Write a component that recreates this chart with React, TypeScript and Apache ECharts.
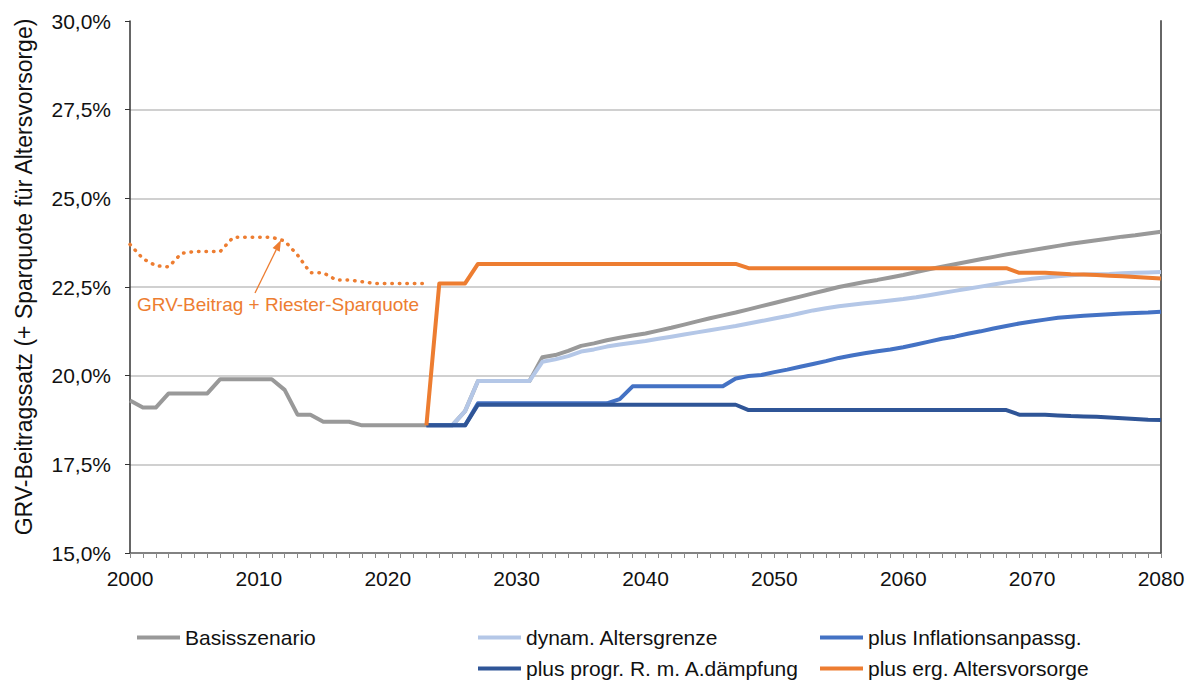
import React, { useEffect, useRef } from "react";
import * as echarts from "echarts";

const FIRST_YEAR = 2000;
const LAST_YEAR = 2080;
const years: string[] = [];
for (let y = FIRST_YEAR; y <= LAST_YEAR; y++) years.push(String(y));

const yTicks = [15, 17.5, 20, 22.5, 25, 27.5, 30];

// Basisszenario 2000-2080
const basis = [
  19.3, 19.1, 19.1, 19.5, 19.5, 19.5, 19.5, 19.9, 19.9, 19.9,
  19.9, 19.9, 19.6, 18.9, 18.9, 18.7, 18.7, 18.7, 18.6, 18.6,
  18.6, 18.6, 18.6, 18.6, 18.6, 18.6, 19.0, 19.85, 19.85, 19.85,
  19.85, 19.85, 20.52, 20.58, 20.7, 20.84, 20.91, 21.0, 21.07, 21.13,
  21.19, 21.27, 21.35, 21.44, 21.53, 21.62, 21.7, 21.78, 21.87, 21.96,
  22.05, 22.14, 22.23, 22.32, 22.41, 22.5, 22.57, 22.64, 22.7, 22.77,
  22.84, 22.92, 23.0, 23.07, 23.14, 23.21, 23.28, 23.35, 23.42, 23.48,
  23.54, 23.6, 23.66, 23.72, 23.77, 23.82, 23.87, 23.92, 23.96, 24.01,
  24.06,
];

// GRV-Beitrag + Riester-Sparquote 2000-2023 (dotted)
const riester = [
  23.7, 23.3, 23.1, 23.07, 23.45, 23.5, 23.5, 23.5, 23.9, 23.9,
  23.9, 23.9, 23.8, 23.4, 22.9, 22.9, 22.7, 22.7, 22.65, 22.6,
  22.6, 22.6, 22.6, 22.6,
];

// Scenario series 2023-2080
const SCEN_START = 2023;
const dynam = [
  18.6, 18.6, 18.6, 19.0, 19.85, 19.85, 19.85, 19.85, 19.85, 20.39,
  20.46, 20.55, 20.68, 20.74, 20.82, 20.88, 20.93, 20.98, 21.04, 21.1,
  21.16, 21.22, 21.28, 21.34, 21.4, 21.47, 21.54, 21.61, 21.68, 21.76,
  21.84, 21.9, 21.96, 22.0, 22.04, 22.08, 22.12, 22.16, 22.21, 22.27,
  22.33, 22.39, 22.45, 22.51, 22.57, 22.63, 22.68, 22.73, 22.77, 22.8,
  22.83, 22.85, 22.86, 22.87, 22.89, 22.9, 22.91, 22.92,
];
const inflation = [
  18.6, 18.6, 18.6, 18.6, 19.22, 19.22, 19.22, 19.22, 19.22, 19.22,
  19.22, 19.22, 19.22, 19.22, 19.22, 19.34, 19.7, 19.7, 19.7, 19.7,
  19.7, 19.7, 19.7, 19.7, 19.92, 19.99, 20.02, 20.1, 20.17, 20.25,
  20.33, 20.41, 20.5, 20.57, 20.63, 20.69, 20.74, 20.8, 20.88, 20.96,
  21.04, 21.1, 21.18, 21.25, 21.33, 21.4, 21.47, 21.53, 21.58, 21.63,
  21.66, 21.69, 21.71, 21.73, 21.75, 21.77, 21.78, 21.8,
];
const progr = [
  18.6, 18.6, 18.6, 18.6, 19.18, 19.18, 19.18, 19.18, 19.18, 19.18,
  19.18, 19.18, 19.18, 19.18, 19.18, 19.18, 19.18, 19.18, 19.18, 19.18,
  19.18, 19.18, 19.18, 19.18, 19.18, 19.03, 19.03, 19.03, 19.03, 19.03,
  19.03, 19.03, 19.03, 19.03, 19.03, 19.03, 19.03, 19.03, 19.03, 19.03,
  19.03, 19.03, 19.03, 19.03, 19.03, 19.03, 18.9, 18.9, 18.9, 18.88,
  18.86, 18.85, 18.84, 18.82, 18.8, 18.78, 18.76, 18.75,
];
const ergVorsorge = [
  18.6, 22.6, 22.6, 22.6, 23.15, 23.15, 23.15, 23.15, 23.15, 23.15,
  23.15, 23.15, 23.15, 23.15, 23.15, 23.15, 23.15, 23.15, 23.15, 23.15,
  23.15, 23.15, 23.15, 23.15, 23.15, 23.03, 23.03, 23.03, 23.03, 23.03,
  23.03, 23.03, 23.03, 23.03, 23.03, 23.03, 23.03, 23.03, 23.03, 23.03,
  23.03, 23.03, 23.03, 23.03, 23.03, 23.03, 22.9, 22.9, 22.9, 22.88,
  22.86, 22.85, 22.84, 22.82, 22.8, 22.78, 22.76, 22.74,
];

const seriesNames = [
  "Basisszenario",
  "dynam. Altersgrenze",
  "plus Inflationsanpassg.",
  "plus progr. R. m. A.dämpfung",
  "plus erg. Altersvorsorge",
];
const colors = ["#999999", "#B4C7E7", "#4472C4", "#2F5597", "#ED7D31"];

const annotationText = "GRV-Beitrag + Riester-Sparquote";
const yTitle = "GRV-Beitragssatz (+ Sparquote für Altersvorsorge)";

const FONT = '"Liberation Sans", Arial, sans-serif';

function padFrom(startYear: number, arr: number[]): (number | null)[] {
  const out: (number | null)[] = [];
  for (let y = FIRST_YEAR; y <= LAST_YEAR; y++) {
    const i = y - startYear;
    out.push(i >= 0 && i < arr.length ? arr[i] : null);
  }
  return out;
}

export default function App() {
  const ref = useRef<HTMLDivElement>(null);
  useEffect(() => {
    document.body.style.margin = "0";
    if (!ref.current) return;
    const chart = echarts.init(ref.current, undefined, { renderer: "svg" });
    const dataSets = [
      padFrom(FIRST_YEAR, basis),
      padFrom(SCEN_START, dynam),
      padFrom(SCEN_START, inflation),
      padFrom(SCEN_START, progr),
      padFrom(SCEN_START, ergVorsorge),
    ];
    const lineSeries: any[] = dataSets.map((d, i) => ({
      name: seriesNames[i],
      type: "line",
      data: d,
      showSymbol: false,
      symbol: "none",
      lineStyle: { color: colors[i], width: 4, join: "round" },
      itemStyle: { color: colors[i] },
      z: 2 + i,
    }));
    lineSeries.push({
      name: "riester",
      type: "line",
      data: padFrom(FIRST_YEAR, riester),
      showSymbol: false,
      symbol: "none",
      lineStyle: { color: "#ED7D31", width: 3.5, type: [0.5, 7], cap: "round" },
      z: 8,
    });

    const legendPos = [
      { left: 137, top: 627 },
      { left: 478, top: 627 },
      { left: 820, top: 627 },
      { left: 478, top: 658 },
      { left: 820, top: 658 },
    ];
    const legends = seriesNames.map((n, i) => ({
      show: true,
      left: legendPos[i].left,
      top: legendPos[i].top,
      data: [n],
      icon: "rect",
      itemWidth: 43,
      itemHeight: 4,
      padding: 0,
      textStyle: { fontFamily: FONT, fontSize: 21, color: "#111" },
      selectedMode: false,
    }));

    // arrow geometry
    const ax1 = 255, ay1 = 293, tx = 281, ty = 240;
    const dx = tx - ax1, dy = ty - ay1;
    const len = Math.sqrt(dx * dx + dy * dy);
    const ux = dx / len, uy = dy / len;
    const bx = tx - ux * 11, by = ty - uy * 11;
    const px = -uy * 4, py = ux * 4;

    chart.setOption({
      animation: false,
      color: colors,
      grid: { left: 130, right: 32, top: 21, bottom: 128, containLabel: false },
      legend: legends,
      xAxis: {
        type: "category",
        data: years,
        boundaryGap: false,
        axisLine: { show: true, lineStyle: { color: "#595959", width: 1.5 } },
        axisTick: { show: true, interval: 0, length: 5, lineStyle: { color: "#888" } },
        axisLabel: { interval: 9, margin: 15, fontFamily: FONT, fontSize: 21, color: "#111" },
        splitLine: { show: false },
      },
      yAxis: [
        {
          type: "value",
          min: 15,
          max: 30,
          interval: 2.5,
          axisLine: { show: true, lineStyle: { color: "#333", width: 1.5 } },
          axisTick: { show: true, length: 5, lineStyle: { color: "#333" } },
          axisLabel: {
            margin: 19,
            fontFamily: FONT,
            fontSize: 21,
            color: "#111",
            formatter: (v: number) => v.toFixed(1).replace(".", ",") + "%",
          },
          splitLine: {
            show: true,
            lineStyle: {
              color: yTicks.map((t) => (t === 30 || t === 15 ? "rgba(0,0,0,0)" : "#C0C0C0")),
              width: 1.5,
            },
          },
        },
        {
          type: "value",
          min: 15,
          max: 30,
          interval: 2.5,
          position: "right",
          axisLine: { show: true, lineStyle: { color: "#666", width: 2 } },
          axisTick: { show: false },
          axisLabel: { show: false },
          splitLine: { show: false },
        },
      ],
      series: lineSeries,
      graphic: [
        {
          type: "text",
          x: 24,
          y: 277,
          rotation: Math.PI / 2,
          style: {
            text: yTitle,
            fill: "#111",
            font: `23px ${FONT}`,
            align: "center",
            verticalAlign: "middle",
          },
        },
        {
          type: "text",
          left: 137,
          top: 295,
          style: { text: annotationText, fill: "#ED7D31", font: `19px ${FONT}` },
          z: 10,
        },
        {
          type: "line",
          shape: { x1: ax1, y1: ay1, x2: bx, y2: by },
          style: { stroke: "#ED7D31", lineWidth: 1.3 },
          z: 10,
        },
        {
          type: "polygon",
          shape: { points: [[tx, ty], [bx + px, by + py], [bx - px, by - py]] },
          style: { fill: "#ED7D31" },
          z: 10,
        },
      ],
    });
    return () => chart.dispose();
  }, []);
  return <div ref={ref} style={{ width: 1193, height: 681 }} />;
}
